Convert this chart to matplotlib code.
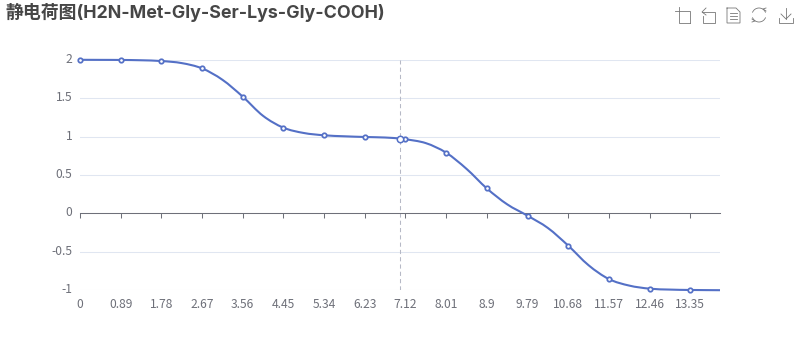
import matplotlib
matplotlib.use("Agg")
import matplotlib.pyplot as plt
from matplotlib.path import Path
from matplotlib.patches import PathPatch, Arc
from matplotlib.transforms import ScaledTranslation

plt.rcParams["font.family"] = ["Noto Sans CJK SC", "DejaVu Sans"]

title = "静电荷图(H2N-Met-Gly-Ser-Lys-Gly-COOH)"
x_ticks = [0, 0.89, 1.78, 2.67, 3.56, 4.45, 5.34, 6.23, 7.12, 8.01, 8.9, 9.79, 10.68, 11.57, 12.46, 13.35]
x_labels = ["0", "0.89", "1.78", "2.67", "3.56", "4.45", "5.34", "6.23", "7.12", "8.01", "8.9", "9.79", "10.68", "11.57", "12.46", "13.35"]
y_ticks = [-1, -0.5, 0, 0.5, 1, 1.5, 2]
y_labels = ["-1", "-0.5", "0", "0.5", "1", "1.5", "2"]

# net charge read at the labelled pH values
charge = [2.0, 1.998, 1.984, 1.888, 1.52, 1.116, 1.017, 0.995, 0.966, 0.79, 0.325, -0.03, -0.42, -0.855, -0.98, -0.997]
hover_x = 7.0
hover_y = 0.975

curve_x = [0, 0.445, 0.89, 1.335, 1.78, 2.225, 2.67, 3.115, 3.56, 4.005, 4.45, 4.895, 5.34, 5.785, 6.23, 6.675,
           7.0, 7.12, 7.565, 8.01, 8.455, 8.9, 9.345, 9.79, 10.235, 10.68, 11.125, 11.57, 12.015, 12.46, 12.905,
           13.35, 14.0]
curve_y = [2.0, 1.999, 1.998, 1.994, 1.984, 1.957, 1.888, 1.74, 1.52, 1.27, 1.116, 1.047, 1.017, 1.004, 0.995, 0.988,
           0.975, 0.966, 0.915, 0.79, 0.58, 0.325, 0.118, -0.03, -0.19, -0.42, -0.675, -0.855, -0.94, -0.98, -0.992,
           -0.997, -1.0]

LINE = "#5470C6"
GRID = "#E0E6F1"
AXIS = "#6E7079"
ICON = "#777777"


def smooth_path(xs, ys, k=1 / 6):
    # bezier through the points, same idea as a smooth line in a web chart
    pts = list(zip(xs, ys))
    verts = [pts[0]]
    codes = [Path.MOVETO]
    for i in range(len(pts) - 1):
        p0 = pts[max(i - 1, 0)]
        p1 = pts[i]
        p2 = pts[i + 1]
        p3 = pts[min(i + 2, len(pts) - 1)]
        c1 = (p1[0] + (p2[0] - p0[0]) * k, p1[1] + (p2[1] - p0[1]) * k)
        c2 = (p2[0] - (p3[0] - p1[0]) * k, p2[1] - (p3[1] - p1[1]) * k)
        verts += [c1, c2, p2]
        codes += [Path.CURVE4, Path.CURVE4, Path.CURVE4]
    return Path(verts, codes)


fig = plt.figure(figsize=(8, 3.6), dpi=100)
ax = fig.add_axes([80 / 800, 1 - 290.2 / 360, 640 / 800, 230.4 / 360])
ax.set_xlim(0, curve_x[-1])
ax.set_ylim(-1, 2)

for s in ["top", "right", "left"]:
    ax.spines[s].set_visible(False)
ax.spines["bottom"].set_position(("data", 0))
ax.spines["bottom"].set_color(AXIS)
ax.spines["bottom"].set_linewidth(0.75)

ax.set_yticks(y_ticks)
ax.set_yticklabels(y_labels)
ax.set_xticks(x_ticks)
ax.set_xticklabels(x_labels)
ax.tick_params(axis="y", length=0, pad=5.5, labelsize=8.7, labelcolor=AXIS)
ax.tick_params(axis="x", length=3.6, width=0.75, color=AXIS, pad=57, labelsize=8.7, labelcolor=AXIS)
ax.grid(axis="y", color=GRID, linewidth=0.75)
ax.set_axisbelow(True)

# y labels sit a little above their grid lines in the original
up = ScaledTranslation(0, 1.5 / 72, fig.dpi_scale_trans)
for lab in ax.get_yticklabels():
    lab.set_transform(lab.get_transform() + up)

ax.axvline(hover_x, color="#B6B9C6", linewidth=0.75, linestyle=(0, (4, 3)), zorder=2)

ax.add_patch(PathPatch(smooth_path(curve_x, curve_y), fill=False, edgecolor=LINE, linewidth=1.5, zorder=3, clip_on=False))

ax.plot(x_ticks, charge, linestyle="none", marker="o", ms=3.2, mfc="white", mec=LINE, mew=1.25, zorder=4, clip_on=False)
ax.plot([hover_x], [hover_y], linestyle="none", marker="o", ms=4.6, mfc="white", mec=LINE, mew=1.1, zorder=4, clip_on=False)

fig.text(5 / 800, 1 - 12 / 360, title, fontsize=12.85, fontweight="bold", color="#464646", ha="left", va="center",
         family=["Inter", "Noto Sans CJK SC"])

# toolbox icons, drawn in pixel coords on an overlay
ov = fig.add_axes([0, 0, 1, 1], facecolor="none")
ov.set_xlim(0, 800)
ov.set_ylim(360, 0)
ov.axis("off")
icon_lines = [
    # crop
    [(675, 11), (690, 11), (690, 23)],
    [(679, 7), (679, 23), (690, 23)],
    # undo
    [(706, 8), (702, 12), (706, 15)],
    [(702, 12), (715, 12), (715, 23), (703, 23), (703, 16)],
    # data view
    [(727, 8), (736, 8), (740, 12), (740, 23), (727, 23), (727, 8)],
    [(730, 13), (737, 13)],
    [(730, 16), (737, 16)],
    [(730, 19), (737, 19)],
    # save
    [(786, 8), (786, 19)],
    [(781, 14), (786, 19), (791, 14)],
    [(779, 18), (779, 23), (793, 23), (793, 18)],
]
for seg in icon_lines:
    ov.plot([p[0] for p in seg], [p[1] for p in seg], color=ICON, linewidth=0.6, solid_joinstyle="miter")
# refresh arrows
ov.add_patch(Arc((759, 15), 14, 14, theta1=200, theta2=340, color=ICON, linewidth=0.6))
ov.add_patch(Arc((759, 15), 14, 14, theta1=20, theta2=160, color=ICON, linewidth=0.6))
ov.plot([766, 763, 766], [8, 9, 11], color=ICON, linewidth=0.6)
ov.plot([752, 755, 752], [22, 21, 19], color=ICON, linewidth=0.6)

fig.savefig("out.png", dpi=100)
plt.close(fig)
